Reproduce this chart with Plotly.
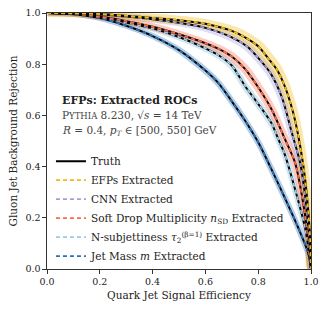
import plotly.graph_objects as go
import numpy as np

# ---- data ----
efp_x = [0, 0.1, 0.2, 0.35, 0.5, 0.6, 0.7, 0.75, 0.8, 0.84, 0.87, 0.9, 0.93, 0.95, 0.97, 0.985, 0.995, 1.0]
efp_y = [1.0, 0.999, 0.996, 0.985, 0.972, 0.958, 0.93, 0.905, 0.87, 0.82, 0.78, 0.715, 0.62, 0.53, 0.41, 0.28, 0.15, 0.0]

cnn_x = [0, 0.1, 0.2, 0.3, 0.4, 0.5, 0.6, 0.7, 0.757, 0.8, 0.846, 0.89, 0.928, 0.959, 0.978, 0.991, 1.0]
cnn_y = [1.0, 0.999, 0.994, 0.986, 0.976, 0.962, 0.942, 0.905, 0.87, 0.825, 0.766, 0.67, 0.53, 0.414, 0.284, 0.154, 0.0]

sdm_x = [0, 0.1, 0.2, 0.3, 0.4, 0.5, 0.6, 0.65, 0.7, 0.75, 0.8, 0.85, 0.9, 0.94, 0.966, 0.985, 1.0]
sdm_y = [1.0, 0.997, 0.986, 0.968, 0.946, 0.917, 0.882, 0.86, 0.83, 0.782, 0.71, 0.625, 0.51, 0.414, 0.284, 0.154, 0.0]

nsub_x = [0, 0.1, 0.2, 0.3, 0.4, 0.5, 0.6, 0.65, 0.7, 0.75, 0.8, 0.85, 0.875, 0.9, 0.947, 0.979, 1.0]
nsub_y = [1.0, 0.996, 0.984, 0.963, 0.94, 0.906, 0.862, 0.835, 0.795, 0.715, 0.645, 0.57, 0.51, 0.45, 0.284, 0.154, 0.0]

mass_x = [0, 0.1, 0.2, 0.3, 0.4, 0.5, 0.6, 0.65, 0.7, 0.75, 0.8, 0.85, 0.9, 0.95, 0.99, 1.0]
mass_y = [1.0, 0.995, 0.98, 0.95, 0.91, 0.855, 0.775, 0.725, 0.655, 0.58, 0.495, 0.39, 0.28, 0.165, 0.06, 0.0]

tick_vals = [0, 0.2, 0.4, 0.6, 0.8, 1.0]
tick_text = ["0.0", "0.2", "0.4", "0.6", "0.8", "1.0"]

names = ["EFPs Extracted", "CNN Extracted",
         "Soft Drop Multiplicity <i>n</i><sub>SD</sub> Extracted",
         "N-subjettiness <i>τ</i><sub>2</sub><sup>(β=1)</sup> Extracted",
         "Jet Mass <i>m</i> Extracted"]
xs = [efp_x, cnn_x, sdm_x, nsub_x, mass_x]
ys = [efp_y, cnn_y, sdm_y, nsub_y, mass_y]
band_hw = [0.016, 0.012, 0.012, 0.010, 0.009]

colors = ["#f2b90f", "#a49fd6", "#fb6a4a", "#9ecae1", "#2b74bd"]
band_colors = ["rgba(242,185,15,0.35)", "rgba(164,159,214,0.35)", "rgba(251,106,74,0.35)",
               "rgba(158,202,225,0.45)", "rgba(43,116,189,0.35)"]

FONT = "DejaVu Serif"

fig = go.Figure()

# bands (drawn first, mass at bottom)
for i in reversed(range(5)):
    x = np.array(xs[i]); y = np.array(ys[i]); d = band_hw[i]
    ux = np.clip(x + d, 0, 1); uy = np.clip(y + d, 0, 1)
    lx = np.clip(x - d, 0, 1); ly = np.clip(y - d, 0, 1)
    fig.add_trace(go.Scatter(x=np.concatenate([ux, lx[::-1]]), y=np.concatenate([uy, ly[::-1]]),
                             fill="toself", fillcolor=band_colors[i],
                             line=dict(width=0, shape="spline", smoothing=0.8),
                             mode="lines", showlegend=False, hoverinfo="skip"))

# truth + extracted lines
for i in reversed(range(5)):
    fig.add_trace(go.Scatter(x=xs[i], y=ys[i], mode="lines",
                             line=dict(color="black", width=2, shape="spline", smoothing=0.8),
                             name="Truth", showlegend=(i == 0), legendrank=1))
    fig.add_trace(go.Scatter(x=xs[i], y=ys[i], mode="lines",
                             line=dict(color=colors[i], width=1.8, dash="4px,3px", shape="spline", smoothing=0.8),
                             name=names[i], legendrank=2 + i))

ann_font = dict(family=FONT, size=10.5, color="#444444")
fig.add_annotation(xref="paper", yref="paper", x=0.05, y=0.658, xanchor="left", yanchor="middle",
                   text="<b>EFPs: Extracted ROCs</b>", showarrow=False,
                   font=dict(family=FONT, size=11, color="#222222"))
fig.add_annotation(xref="paper", yref="paper", x=0.05, y=0.6, xanchor="left", yanchor="middle",
                   text="P<span style='font-size:8.5px'>YTHIA</span> 8.230, √<i>s</i> = 14 TeV",
                   showarrow=False, font=ann_font)
fig.add_annotation(xref="paper", yref="paper", x=0.05, y=0.54, xanchor="left", yanchor="middle",
                   text="<i>R</i> = 0.4, <i>p<sub>T</sub></i> ∈ [500, 550] GeV", showarrow=False,
                   font=ann_font)

axis_common = dict(range=[0, 1], tickmode="array", tickvals=tick_vals, ticktext=tick_text,
                   ticks="outside", ticklen=3.5, tickwidth=1, tickcolor="#333333",
                   showline=True, linecolor="#333333", linewidth=1.2, mirror=True,
                   showgrid=False, zeroline=False, automargin=False,
                   tickfont=dict(family=FONT, size=9.5, color="#222222"))

fig.update_layout(
    width=327, height=312,
    margin=dict(l=47, r=16, t=13, b=43),
    plot_bgcolor="white", paper_bgcolor="white",
    xaxis=dict(**axis_common, title=dict(text="Quark Jet Signal Efficiency", standoff=5,
                                         font=dict(family=FONT, size=10.5, color="#222222"))),
    yaxis=dict(**axis_common, title=dict(text="Gluon Jet Background Rejection", standoff=5,
                                         font=dict(family=FONT, size=10.5, color="#222222"))),
    legend=dict(x=0.015, y=0.478, xanchor="left", yanchor="top", bgcolor="rgba(0,0,0,0)",
                font=dict(family=FONT, size=10.5, color="#222222"), traceorder="normal",
                itemwidth=30, tracegroupgap=0),
    showlegend=True,
)

fig.write_html("out.html", config={"displayModeBar": False},
               post_script="document.body.style.margin='0px';")
